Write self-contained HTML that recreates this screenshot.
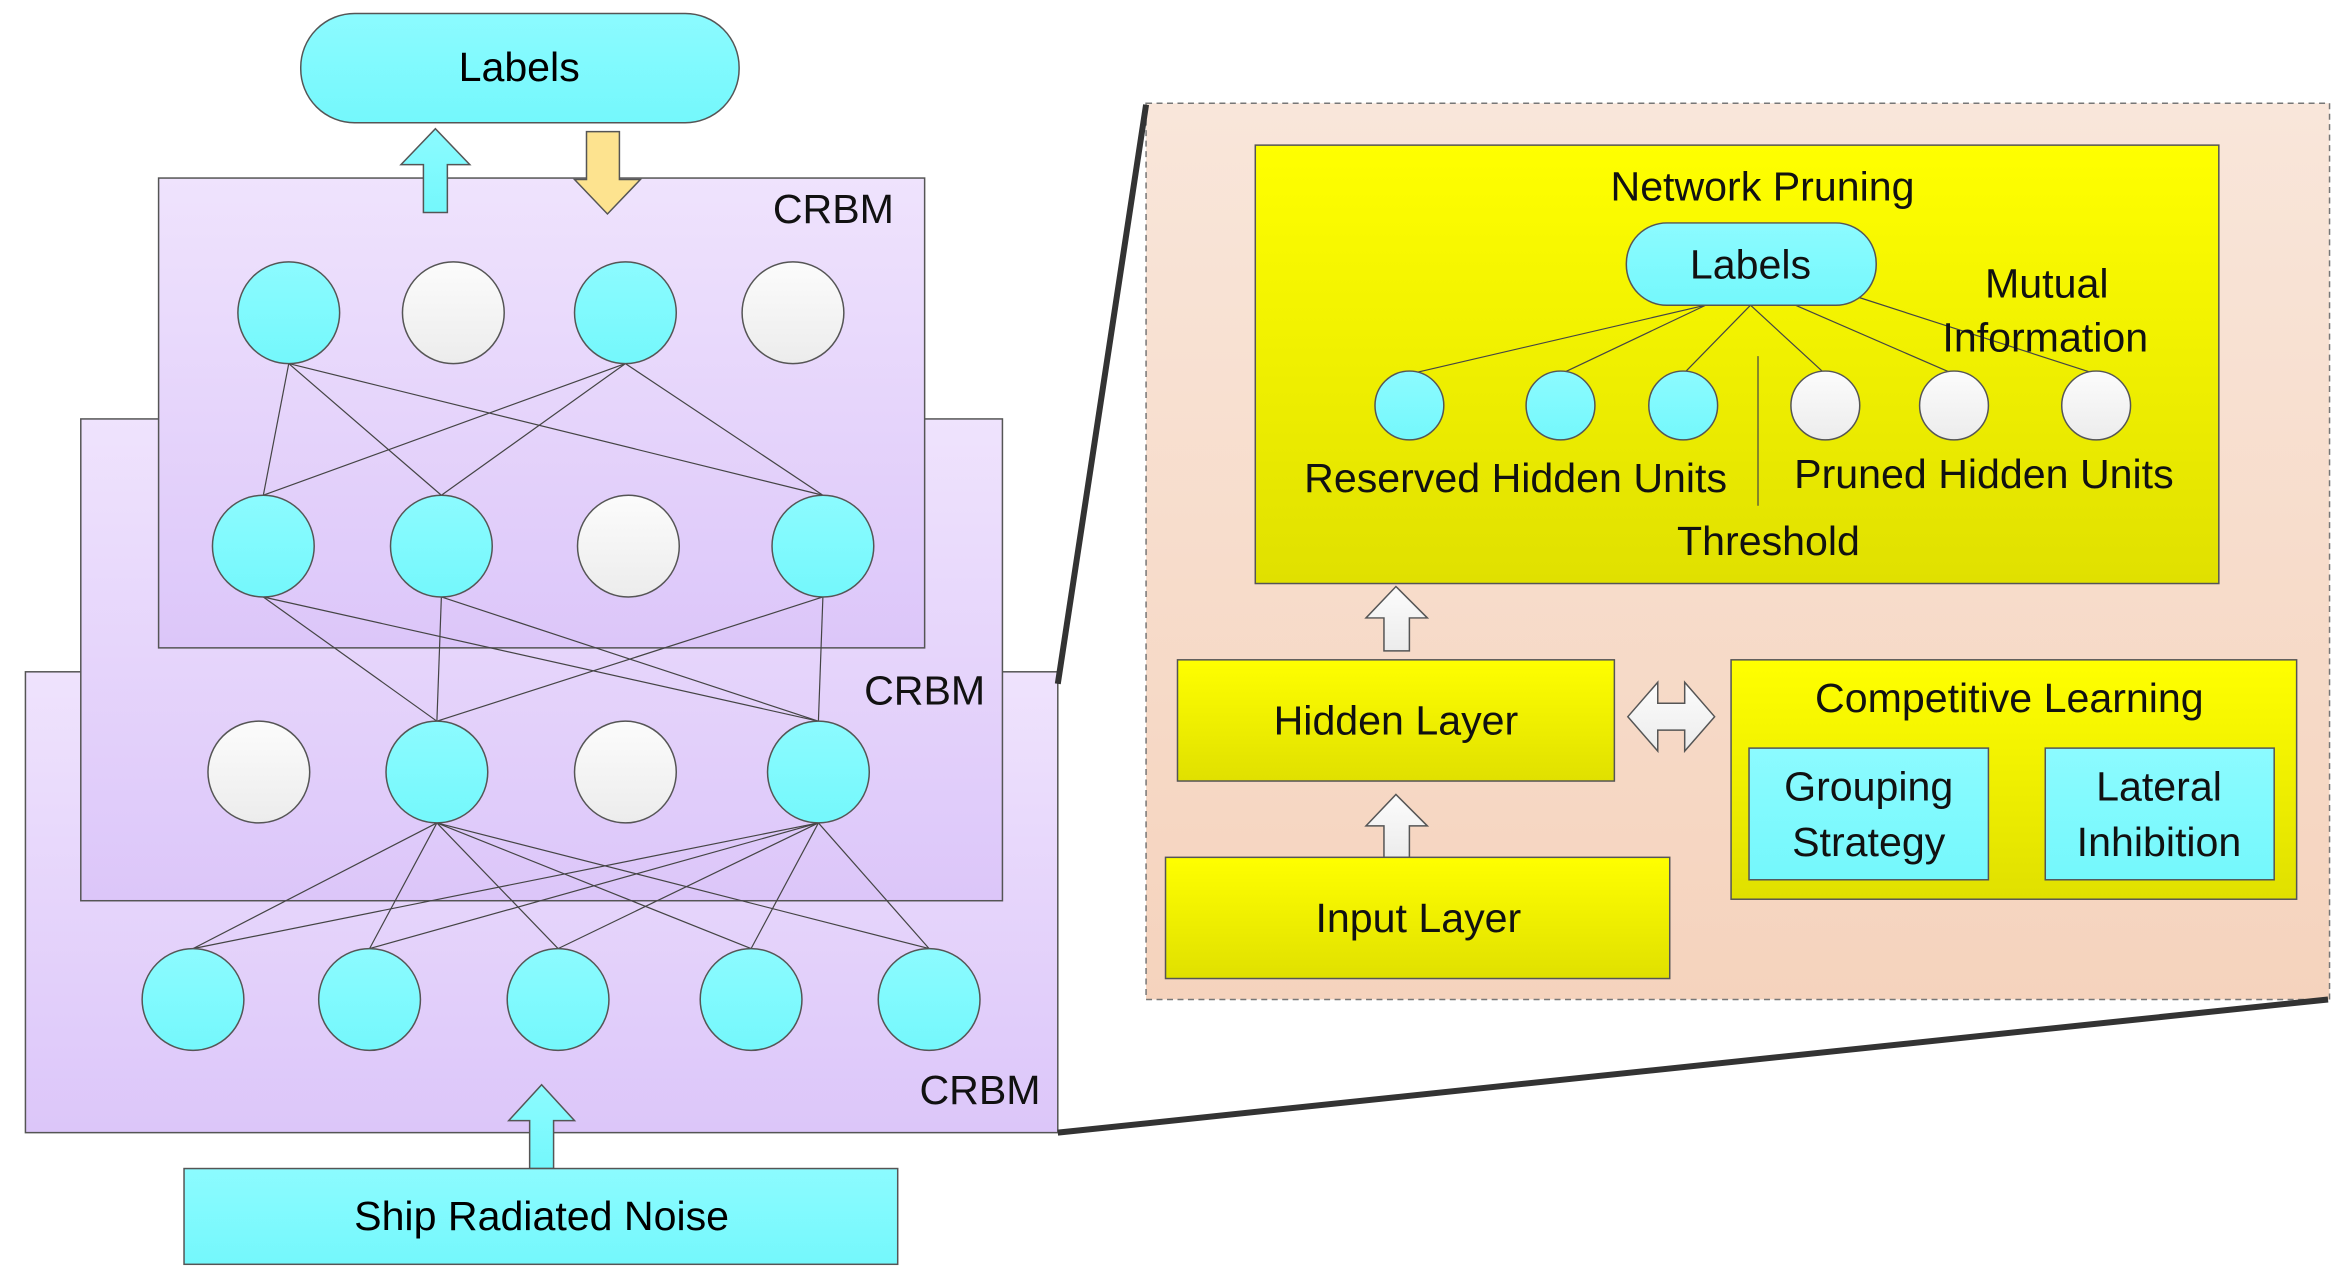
<!DOCTYPE html>
<html><head><meta charset="utf-8"><style>html,body{margin:0;padding:0;background:#fff}svg{display:block}</style></head><body>
<svg width="2346" height="1286" viewBox="0 0 1568 859.5" preserveAspectRatio="none" xmlns="http://www.w3.org/2000/svg" font-family="Liberation Sans, sans-serif">
<defs>
<linearGradient id="pu" x1="0" y1="0" x2="0" y2="1"><stop offset="0" stop-color="#efe3fd"/><stop offset="1" stop-color="#dcc6f9"/></linearGradient>
<linearGradient id="cy" x1="0" y1="0" x2="0" y2="1"><stop offset="0" stop-color="#8cfbff"/><stop offset="1" stop-color="#74f8fc"/></linearGradient>
<linearGradient id="wh" x1="0" y1="0" x2="0" y2="1"><stop offset="0" stop-color="#fcfcfc"/><stop offset="1" stop-color="#ececec"/></linearGradient>
<linearGradient id="ye" x1="0" y1="0" x2="0" y2="1"><stop offset="0" stop-color="#ffff00"/><stop offset="1" stop-color="#e0e000"/></linearGradient>
<linearGradient id="pe" x1="0" y1="0" x2="0" y2="1"><stop offset="0" stop-color="#f9e6da"/><stop offset="1" stop-color="#f5d3bd"/></linearGradient>
</defs>
<g stroke="#555" stroke-width="1">
<rect x="17" y="449" width="690" height="308" fill="url(#pu)"/>
<rect x="54" y="280" width="616" height="322" fill="url(#pu)"/>
<rect x="106" y="119" width="512" height="314" fill="url(#pu)"/>
</g>
<g font-size="27.5" fill="#111" text-anchor="middle">
<text x="557" y="149">CRBM</text><text x="618" y="471">CRBM</text><text x="655" y="738">CRBM</text>
</g>
<rect x="201" y="9" width="293" height="73" rx="36" fill="url(#cy)" stroke="#555"/>
<text x="347" y="54" font-size="27.5" text-anchor="middle">Labels</text>
<polygon points="268,110 291,86 314,110 299,110 299,142 283,142 283,110" fill="url(#cy)" stroke="#555"/>
<polygon points="392,88 414,88 414,120 428,120 406,143 384,120 392,120" fill="#fde38f" stroke="#555"/>
<g stroke="#444" stroke-width="0.8">
<line x1="193" y1="243" x2="176" y2="331"/><line x1="193" y1="243" x2="295" y2="331"/><line x1="193" y1="243" x2="550" y2="331"/>
<line x1="418" y1="243" x2="176" y2="331"/><line x1="418" y1="243" x2="295" y2="331"/><line x1="418" y1="243" x2="550" y2="331"/>
<line x1="176" y1="399" x2="292" y2="482"/><line x1="176" y1="399" x2="547" y2="482"/>
<line x1="295" y1="399" x2="292" y2="482"/><line x1="295" y1="399" x2="547" y2="482"/>
<line x1="550" y1="399" x2="292" y2="482"/><line x1="550" y1="399" x2="547" y2="482"/>
<line x1="292" y1="550" x2="129" y2="634"/><line x1="292" y1="550" x2="247" y2="634"/><line x1="292" y1="550" x2="373" y2="634"/><line x1="292" y1="550" x2="502" y2="634"/><line x1="292" y1="550" x2="621" y2="634"/>
<line x1="547" y1="550" x2="129" y2="634"/><line x1="547" y1="550" x2="247" y2="634"/><line x1="547" y1="550" x2="373" y2="634"/><line x1="547" y1="550" x2="502" y2="634"/><line x1="547" y1="550" x2="621" y2="634"/>
</g>
<g stroke="#555" stroke-width="1">
<circle cx="193" cy="209" r="34" fill="url(#cy)"/><circle cx="303" cy="209" r="34" fill="url(#wh)"/><circle cx="418" cy="209" r="34" fill="url(#cy)"/><circle cx="530" cy="209" r="34" fill="url(#wh)"/>
<circle cx="176" cy="365" r="34" fill="url(#cy)"/><circle cx="295" cy="365" r="34" fill="url(#cy)"/><circle cx="420" cy="365" r="34" fill="url(#wh)"/><circle cx="550" cy="365" r="34" fill="url(#cy)"/>
<circle cx="173" cy="516" r="34" fill="url(#wh)"/><circle cx="292" cy="516" r="34" fill="url(#cy)"/><circle cx="418" cy="516" r="34" fill="url(#wh)"/><circle cx="547" cy="516" r="34" fill="url(#cy)"/>
<circle cx="129" cy="668" r="34" fill="url(#cy)"/><circle cx="247" cy="668" r="34" fill="url(#cy)"/><circle cx="373" cy="668" r="34" fill="url(#cy)"/><circle cx="502" cy="668" r="34" fill="url(#cy)"/><circle cx="621" cy="668" r="34" fill="url(#cy)"/>
</g>
<polygon points="340,749 362,725 384,749 370,749 370,781 354,781 354,749" fill="url(#cy)" stroke="#555"/>
<rect x="123" y="781" width="477" height="64" fill="url(#cy)" stroke="#555"/>
<text x="362" y="822" font-size="27.5" text-anchor="middle">Ship Radiated Noise</text>
<rect x="766" y="69" width="791" height="599" fill="url(#pe)" stroke="#777" stroke-dasharray="4,3"/>
<line x1="707" y1="457" x2="766" y2="70" stroke="#333" stroke-width="4"/>
<line x1="707" y1="757" x2="1556" y2="668" stroke="#333" stroke-width="4"/>
<rect x="839" y="97" width="644" height="293" fill="url(#ye)" stroke="#555"/>
<g stroke="#444" stroke-width="0.8">
<line x1="1140" y1="204" x2="942" y2="250"/><line x1="1140" y1="204" x2="1043" y2="250"/><line x1="1170" y1="204" x2="1125" y2="250"/><line x1="1170" y1="204" x2="1220" y2="250"/><line x1="1200" y1="204" x2="1306" y2="250"/><line x1="1240" y1="198" x2="1401" y2="250"/>
<line x1="1175" y1="238" x2="1175" y2="338"/>
</g>
<rect x="1087" y="149" width="167" height="55" rx="27" fill="url(#cy)" stroke="#555"/>
<g stroke="#555">
<circle cx="942" cy="271" r="23" fill="url(#cy)"/><circle cx="1043" cy="271" r="23" fill="url(#cy)"/><circle cx="1125" cy="271" r="23" fill="url(#cy)"/>
<circle cx="1220" cy="271" r="23" fill="url(#wh)"/><circle cx="1306" cy="271" r="23" fill="url(#wh)"/><circle cx="1401" cy="271" r="23" fill="url(#wh)"/>
</g>
<g font-size="27.5" fill="#111" text-anchor="middle">
<text x="1178" y="134">Network Pruning</text>
<text x="1170" y="186">Labels</text>
<text x="1368" y="199">Mutual</text><text x="1367" y="235">Information</text>
<text x="1013" y="329">Reserved Hidden Units</text>
<text x="1326" y="326">Pruned Hidden Units</text>
<text x="1182" y="371">Threshold</text>
</g>
<polygon points="913,413 933,392 954,413 942,413 942,435 925,435 925,413" fill="url(#wh)" stroke="#555"/>
<polygon points="913,552 933,531 954,552 942,552 942,573 925,573 925,552" fill="url(#wh)" stroke="#555"/>
<rect x="787" y="441" width="292" height="81" fill="url(#ye)" stroke="#555"/>
<rect x="779" y="573" width="337" height="81" fill="url(#ye)" stroke="#555"/>
<polygon points="1088,479 1108,456 1108,470 1126,470 1126,456 1146,479 1126,502 1126,488 1108,488 1108,502" fill="url(#wh)" stroke="#555"/>
<rect x="1157" y="441" width="378" height="160" fill="url(#ye)" stroke="#555"/>
<rect x="1169" y="500" width="160" height="88" fill="url(#cy)" stroke="#555"/>
<rect x="1367" y="500" width="153" height="88" fill="url(#cy)" stroke="#555"/>
<g font-size="27.5" fill="#111" text-anchor="middle">
<text x="933" y="491">Hidden Layer</text>
<text x="948" y="623">Input Layer</text>
<text x="1343" y="476">Competitive Learning</text>
<text x="1249" y="535">Grouping</text><text x="1249" y="572">Strategy</text>
<text x="1443" y="535">Lateral</text><text x="1443" y="572">Inhibition</text>
</g>
</svg>
</body></html>
